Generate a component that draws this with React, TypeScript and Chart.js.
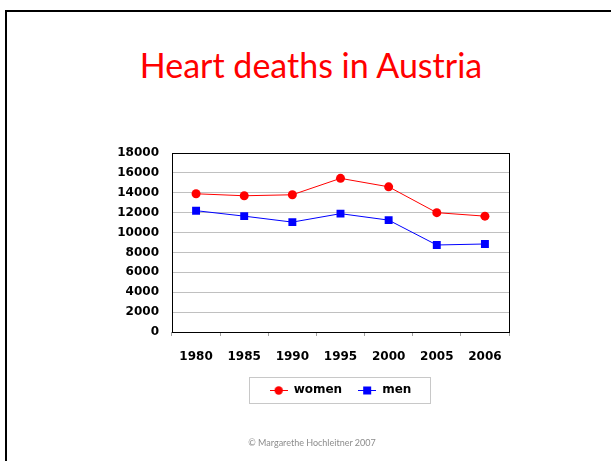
import React, { useEffect, useRef } from 'react';
import { Chart, registerables } from 'chart.js';

Chart.register(...registerables);

const years = ['1980', '1985', '1990', '1995', '2000', '2005', '2006'];
const womenDeaths = [13900, 13700, 13800, 15450, 14600, 12000, 11650];
const menDeaths = [12200, 11650, 11050, 11900, 11250, 8750, 8850];
const yMin = 0;
const yMax = 18000;
const yStep = 2000;

const titleText = 'Heart deaths in Austria';
const footerText = '\u00A9 Margarethe Hochleitner 2007';

const RED = '#ff0000';
const BLUE = '#0000ff';
const AXIS_FONT = { family: '"DejaVu Sans", sans-serif', size: 12, weight: 'bold' as const };

function legendMarker(color: string, shape: 'circle' | 'square') {
  const c = document.createElement('canvas');
  c.width = 18;
  c.height = 10;
  const ctx = c.getContext('2d')!;
  ctx.strokeStyle = color;
  ctx.lineWidth = 1;
  ctx.beginPath();
  ctx.moveTo(0, 5.5);
  ctx.lineTo(18, 5.5);
  ctx.stroke();
  ctx.fillStyle = color;
  if (shape === 'circle') {
    ctx.beginPath();
    ctx.arc(9, 5.5, 4.2, 0, Math.PI * 2);
    ctx.fill();
  } else {
    ctx.fillRect(5, 1.5, 8, 8);
  }
  return c;
}

const framePlugin = {
  id: 'frame',
  afterLayout(chart: any) {
    const lg = chart.legend;
    if (!lg) return;
    const ca = chart.chartArea;
    const shift = (ca.left + ca.right) / 2 - (lg.left + lg.right) / 2;
    lg.left += shift;
    lg.right += shift;
  },
  beforeDatasetsDraw(chart: any) {
    const { ctx, chartArea } = chart;
    ctx.save();
    ctx.strokeStyle = '#000';
    ctx.lineWidth = 1;
    ctx.strokeRect(
      Math.round(chartArea.left) + 0.5,
      Math.round(chartArea.top) + 0.5,
      Math.round(chartArea.right - chartArea.left),
      Math.round(chartArea.bottom - chartArea.top)
    );
    ctx.restore();
  },
  afterDraw(chart: any) {
    const lg = chart.legend;
    if (!lg || !lg.legendHitBoxes || !lg.legendHitBoxes.length) return;
    const hb = lg.legendHitBoxes;
    const first = hb[0];
    const last = hb[hb.length - 1];
    const left = Math.round(first.left - 21) + 0.5;
    const right = Math.round(last.left + last.width + 19) + 0.5;
    const top = Math.round(first.top - 7) + 0.5;
    const bottom = Math.round(first.top + first.height + 7) + 0.5;
    const { ctx } = chart;
    ctx.save();
    ctx.strokeStyle = '#c8c8c8';
    ctx.lineWidth = 1;
    ctx.strokeRect(left, top, right - left, bottom - top);
    ctx.restore();
  },
};

function ChartCanvas() {
  const ref = useRef<HTMLCanvasElement | null>(null);
  useEffect(() => {
    if (!ref.current) return;
    const markers = [legendMarker(RED, 'circle'), legendMarker(BLUE, 'square')];
    const chart = new Chart(ref.current, {
      type: 'line',
      data: {
        labels: years,
        datasets: [
          {
            label: 'women',
            data: womenDeaths,
            borderColor: RED,
            backgroundColor: RED,
            borderWidth: 1,
            pointStyle: 'circle',
            pointRadius: 4.5,
            pointBorderWidth: 0,
            pointBackgroundColor: RED,
            tension: 0,
          },
          {
            label: 'men',
            data: menDeaths,
            borderColor: BLUE,
            backgroundColor: BLUE,
            borderWidth: 1,
            pointStyle: 'rect',
            pointRadius: 5.6,
            pointBorderWidth: 0,
            pointBackgroundColor: BLUE,
            tension: 0,
          },
        ],
      },
      options: {
        responsive: false,
        animation: false,
        events: [],
        layout: { padding: { left: 102, right: 102, top: 153, bottom: 55 } },
        scales: {
          x: {
            type: 'category',
            offset: true,
            afterFit: (s: any) => {
              s.height = 36;
            },
            grid: {
              offset: true,
              drawOnChartArea: false,
              drawTicks: true,
              tickLength: 4,
              color: '#a0a0a0',
            },
            border: { display: false },
            ticks: { color: '#000', font: AXIS_FONT, padding: 14, maxRotation: 0, autoSkip: false },
          },
          y: {
            min: yMin,
            max: yMax,
            afterFit: (s: any) => {
              s.width = 70;
            },
            grid: { color: '#c0c0c0', drawTicks: false, lineWidth: 1 },
            border: { display: false },
            ticks: {
              stepSize: yStep,
              color: '#000',
              font: AXIS_FONT,
              padding: 13,
              callback: (v: any) => String(v),
            },
          },
        },
        plugins: {
          title: { display: false },
          tooltip: { enabled: false },
          legend: {
            display: true,
            position: 'bottom',
            labels: {
              usePointStyle: true,
              pointStyleWidth: 18,
              padding: 16,
              color: '#000',
              font: AXIS_FONT,
              generateLabels: (ch: any) => {
                const items = Chart.defaults.plugins.legend.labels.generateLabels(ch);
                return items.map((it: any, i: number) => ({ ...it, pointStyle: markers[i] }));
              },
            },
          },
        },
      },
      plugins: [framePlugin],
    });
    return () => chart.destroy();
  }, []);
  return (
    <canvas
      ref={ref}
      width={611}
      height={461}
      style={{ position: 'absolute', left: 0, top: 0, width: 611, height: 461 }}
    />
  );
}

export default function App() {
  return (
    <div
      style={{
        position: 'fixed',
        left: 0,
        top: 0,
        width: 611,
        height: 461,
        background: '#fff',
        overflow: 'hidden',
      }}
    >
      <div
        style={{
          position: 'absolute',
          left: 5,
          top: 10,
          width: 700,
          height: 600,
          borderTop: '2.5px solid #000',
          borderLeft: '2.5px solid #000',
        }}
      />
      <div
        style={{
          position: 'absolute',
          left: 0,
          top: 48,
          width: 622,
          textAlign: 'center',
          fontFamily: 'Lato, sans-serif',
          fontSize: 34,
          lineHeight: '34px',
          color: RED,
          whiteSpace: 'nowrap',
        }}
      >
        {titleText}
      </div>
      <ChartCanvas />
      <div
        style={{
          position: 'absolute',
          left: 0,
          top: 438,
          width: 624,
          textAlign: 'center',
          fontFamily: 'Lato, sans-serif',
          fontSize: 9,
          lineHeight: '9px',
          color: '#8c8c8c',
          whiteSpace: 'nowrap',
        }}
      >
        {footerText}
      </div>
    </div>
  );
}
